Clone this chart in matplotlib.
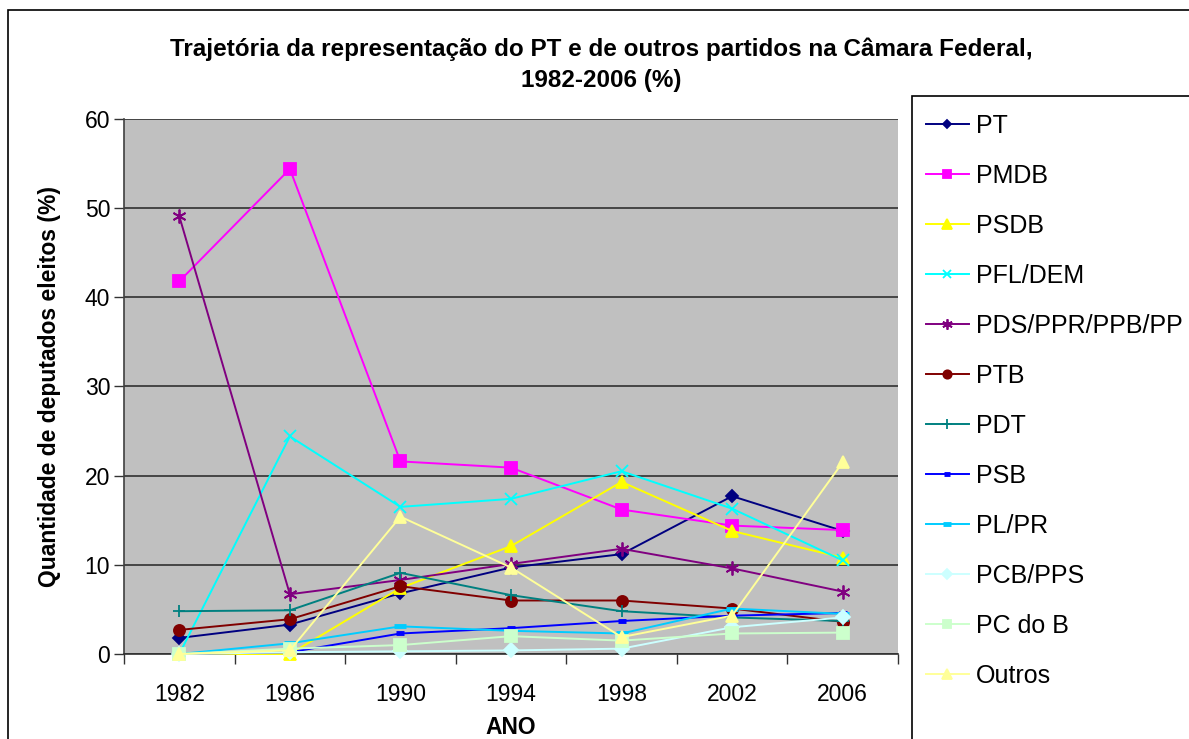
import matplotlib
matplotlib.use("Agg")
import matplotlib.pyplot as plt
from matplotlib.patches import Rectangle
import numpy as np

# ===================================
# Dados (% de deputados eleitos)
# ===================================
anos = ["1982", "1986", "1990", "1994", "1998", "2002", "2006"]

pt = [1.8, 3.3, 6.8, 9.7, 11.2, 17.7, 13.8]
pmdb = [41.8, 54.4, 21.6, 20.9, 16.2, 14.4, 13.9]
psdb = [0.0, 0.0, 7.4, 12.1, 19.3, 13.8, 10.8]
pfl_dem = [0.0, 24.4, 16.5, 17.4, 20.5, 16.3, 10.5]
pds_pp = [49.1, 6.7, 8.3, 10.1, 11.8, 9.6, 7.0]
ptb = [2.7, 3.9, 7.6, 6.0, 6.0, 5.1, 3.6]
pdt = [4.8, 4.9, 9.1, 6.6, 4.8, 4.1, 3.7]
psb = [0.0, 0.2, 2.3, 2.9, 3.7, 4.3, 4.6]
pl_pr = [0.0, 1.2, 3.1, 2.6, 2.3, 5.1, 4.5]
pcb_pps = [0.0, 0.2, 0.3, 0.4, 0.6, 3.0, 4.1]
pc_do_b = [0.0, 0.6, 1.0, 2.0, 1.5, 2.3, 2.4]
outros = [0.0, 0.4, 15.4, 9.7, 1.9, 4.3, 21.5]

series = [
    ("PT", pt, "#000080", "D", 6),
    ("PMDB", pmdb, "#FF00FF", "s", 8),
    ("PSDB", psdb, "#FFFF00", "^", 9),
    ("PFL/DEM", pfl_dem, "#00FFFF", "x", 8),
    ("PDS/PPR/PPB/PP", pds_pp, "#800080", (6, 2, 0), 10),
    ("PTB", ptb, "#800000", "o", 8),
    ("PDT", pdt, "#008080", "+", 9),
    ("PSB", psb, "#0000FF", "_", 6),
    ("PL/PR", pl_pr, "#00CCFF", "_", 8),
    ("PCB/PPS", pcb_pps, "#CCFFFF", "D", 7),
    ("PC do B", pc_do_b, "#CCFFCC", "s", 8),
    ("Outros", outros, "#FFFF99", "^", 9),
]

plt.rcParams["font.family"] = ["Liberation Sans", "DejaVu Sans"]

W, H = 1189, 739
fig = plt.figure(figsize=(W / 100, H / 100), dpi=100)

# moldura externa do gráfico
fig.patches.append(Rectangle(
    (8 / W, -0.1), 1.2, 1 - 10 / H + 0.1,
    transform=fig.transFigure, fill=False,
    edgecolor="black", linewidth=1.2
))

ax = fig.add_axes([124 / W, 1 - 654 / H, (898 - 124) / W, (654 - 119) / H])
ax.set_facecolor("#C0C0C0")

x = np.arange(len(anos))

handles = []
for nome, valores, cor, marcador, tam in series:
    (ln,) = ax.plot(
        x, valores,
        color=cor,
        marker=marcador,
        markersize=tam,
        markerfacecolor=cor,
        markeredgecolor=cor,
        markeredgewidth=1.3 if marcador != "_" else 3.5,
        linewidth=1.4,
        label=nome,
        clip_on=False,
        zorder=3
    )
    handles.append(ln)

ax.set_xlim(-0.5, len(anos) - 0.5)
ax.set_ylim(0, 60)
ax.set_yticks(range(0, 61, 10))
ax.set_xticks(x)
ax.set_xticklabels(anos)
ax.set_xticks(np.arange(-0.5, len(anos), 1), minor=True)

ax.tick_params(axis="x", which="major", length=0, pad=21, labelsize=16.5)
ax.tick_params(axis="x", which="minor", length=7, width=1, color="#333333")
ax.tick_params(axis="y", length=7, width=1, color="#333333",
               labelsize=16.5, pad=3)

ax.grid(True, axis="y", color="#303030", linewidth=1.2)
ax.set_axisbelow(True)

for lado in ("top", "right"):
    ax.spines[lado].set_visible(False)
ax.spines["left"].set_color("#404040")
ax.spines["left"].set_linewidth(1.2)
ax.spines["bottom"].set_color("#303030")
ax.spines["bottom"].set_linewidth(1.2)

ax.set_xlabel("ANO", fontsize=16.5, fontweight="bold", labelpad=7)
ax.set_ylabel("Quantidade de deputados eleitos (%)", fontsize=16.5,
              fontweight="bold", labelpad=17)

fig.text(
    601 / W, 1 - 65 / H,
    "Trajetória da representação do PT e de outros partidos na Câmara Federal,\n"
    "1982-2006 (%)",
    ha="center", va="center", fontsize=17.5, fontweight="bold",
    linespacing=1.45
)

# legenda
fig.patches.append(Rectangle(
    (912 / W, -0.1), 0.5, 1 - 96 / H + 0.1,
    transform=fig.transFigure, fill=False,
    edgecolor="black", linewidth=1.2
))
fig.legend(
    handles=handles,
    loc="upper left",
    bbox_to_anchor=(916 / W, 1 - 104 / H),
    frameon=False,
    fontsize=18,
    handlelength=1.7,
    handletextpad=0.3,
    labelspacing=1.04,
    borderaxespad=0,
    markerscale=0.75
)

plt.savefig("out.png", dpi=100)
plt.close()
